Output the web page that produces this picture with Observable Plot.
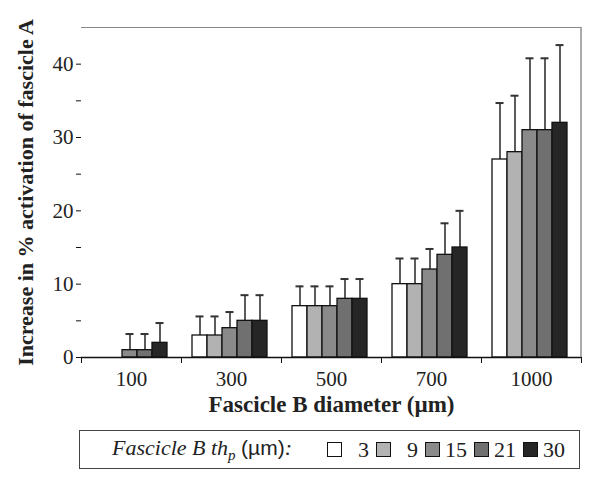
<!DOCTYPE html>
<html>
<head>
<meta charset="utf-8">
<script src="https://cdn.jsdelivr.net/npm/d3@7"></script>
<script src="https://cdn.jsdelivr.net/npm/@observablehq/plot@0.6"></script>
<style>
  body { margin: 0; background: white; overflow: hidden; }
  #wrap { position: relative; width: 601px; height: 483px; font-family: "Liberation Serif", "Times New Roman", serif; }
  #wrap svg { display: block; }
  #legend { position: absolute; left: 79px; top: 430px; width: 501px; height: 39px; box-sizing: border-box;
    border: 1.5px solid #444; display: flex; align-items: center; padding-left: 32px; font-size: 22px; color: #222; }
  #legend .title { font-style: italic; width: 215px; flex: none; white-space: nowrap; }
  #legend .title sub { font-size: 15px; }
  #legend .title .nb { font-style: normal; font-family: "Liberation Sans", Arial, sans-serif; font-size: 21px; }
  #legend .item { display: flex; align-items: center; width: 49px; flex: none; font-size: 22px; }
  #legend .sw { width: 15px; height: 15px; border: 1.5px solid #111; box-sizing: border-box; }
  #legend .lab { width: 27px; text-align: right; }
</style>
</head>
<body>
<div id="wrap"></div>
<script>
const groups = ["100", "300", "500", "700", "1000"];
const series = ["3", "9", "15", "21", "30"];
const colors = ["#ffffff", "#b2b2b2", "#8a8a8a", "#707070", "#262626"];

// mean values per group (one per series)
const mean100 = [0, 0, 1, 1, 2];
const mean300 = [3, 3, 4, 5, 5];
const mean500 = [7, 7, 7, 8, 8];
const mean700 = [10, 10, 12, 14, 15];
const mean1000 = [27, 28, 31, 31, 32];

// upper error (SD) per group
const sd100 = [0, 0, 2.2, 2.2, 2.7];
const sd300 = [2.6, 2.6, 2.2, 3.5, 3.5];
const sd500 = [2.7, 2.7, 2.7, 2.7, 2.7];
const sd700 = [3.5, 3.5, 2.8, 4.3, 5.0];
const sd1000 = [7.7, 7.7, 9.8, 9.8, 10.6];

const yMajorTicks = [0, 10, 20, 30, 40];
const yMinorTicks = [5, 15, 25, 35];
const yMax = 45;

const means = [mean100, mean300, mean500, mean700, mean1000];
const sds = [sd100, sd300, sd500, sd700, sd1000];
const rows = [];
groups.forEach((g, gi) => series.forEach((s, si) => {
  rows.push({group: g, series: s, value: means[gi][si], sd: sds[gi][si]});
}));
const barRows = rows.filter(d => d.value > 0);
const errRows = rows.filter(d => d.sd > 0);

const W = 601, H = 420, ML = 81, MR = 20, MT = 27, MB = 63;

const plot = Plot.plot({
  width: W,
  height: H,
  marginLeft: ML,
  marginRight: MR,
  marginTop: MT,
  marginBottom: MB,
  style: {fontFamily: "'Liberation Serif', 'Times New Roman', serif", fontSize: "21px", color: "#222", background: "white", overflow: "visible"},
  fx: {domain: groups, padding: 0, label: null, axis: null},
  x: {domain: series, paddingInner: 0, paddingOuter: 0.7, align: 0.45, axis: null},
  y: {domain: [0, yMax], axis: null},
  color: {domain: series, range: colors},
  marks: [
    Plot.ruleY([yMax], {stroke: "#888", strokeWidth: 1.2}),
    Plot.ruleX(errRows, {fx: "group", x: "series", y1: "value", y2: d => d.value + d.sd, stroke: "#333", strokeWidth: 1.6}),
    Plot.tickY(errRows, {fx: "group", x: "series", y: d => d.value + d.sd, insetLeft: 3.5, insetRight: 3.5, stroke: "#333", strokeWidth: 2}),
    Plot.barY(barRows, {fx: "group", x: "series", y: "value", fill: "series", stroke: "#111", strokeWidth: 1.3}),
    Plot.ruleY([0], {stroke: "#111", strokeWidth: 1.4}),
    Plot.axisY({ticks: yMajorTicks, tickSize: 5, tickPadding: 3, line: true, label: null, stroke: "#111"}),
    Plot.axisY({ticks: yMinorTicks, tickSize: 5, tickFormat: () => "", label: null, stroke: "#111"}),
    Plot.axisY({ticks: [], tickSize: 0, label: "Increase in % activation of fascicle A", labelAnchor: "center", labelArrow: "none", labelOffset: 64, fontWeight: "bold", fontSize: 22}),
    Plot.axisFx({anchor: "bottom", tickSize: 0, tickPadding: 14, label: null}),
    Plot.axisFx({anchor: "bottom", tickSize: 6, tickFormat: () => "", label: null, dx: -50, stroke: "#111"}),
    Plot.axisFx({anchor: "bottom", tickSize: 6, tickFormat: () => "", label: null, dx: 50, stroke: "#111"}),
    Plot.axisFx({anchor: "bottom", tickSize: 0, tickFormat: () => "", label: "Fascicle B diameter (µm)", labelAnchor: "center", labelArrow: "none", labelOffset: 54, fontWeight: "bold", fontSize: 23})
  ]
});

const wrap = document.getElementById("wrap");
wrap.appendChild(plot);

// right edge of the frame, using the y scale for its extent
const svgEl = plot.tagName.toLowerCase() === "svg" ? plot : plot.querySelector("svg");
let yTop = MT, yBottom = H - MB;
try {
  const ys = plot.scale("y");
  const a = ys.apply(yMax), b = ys.apply(0);
  if (isFinite(a) && isFinite(b)) { yTop = a; yBottom = b; }
} catch (e) { /* keep margins */ }
const edge = document.createElementNS("http://www.w3.org/2000/svg", "line");
const xRight = W - MR;
edge.setAttribute("x1", xRight);
edge.setAttribute("x2", xRight);
edge.setAttribute("y1", yTop);
edge.setAttribute("y2", yBottom);
edge.setAttribute("stroke", "#888");
edge.setAttribute("stroke-width", "1.4");
svgEl.appendChild(edge);

const legend = document.createElement("div");
legend.id = "legend";
legend.innerHTML = `<span class="title">Fascicle B th<sub>p</sub> <span class="nb">(µm)</span>:</span>` +
  series.map((s, i) => `<span class="item"><span class="sw" style="background:${colors[i]}"></span><span class="lab">${s}</span></span>`).join("");
wrap.appendChild(legend);
</script>
</body>
</html>
